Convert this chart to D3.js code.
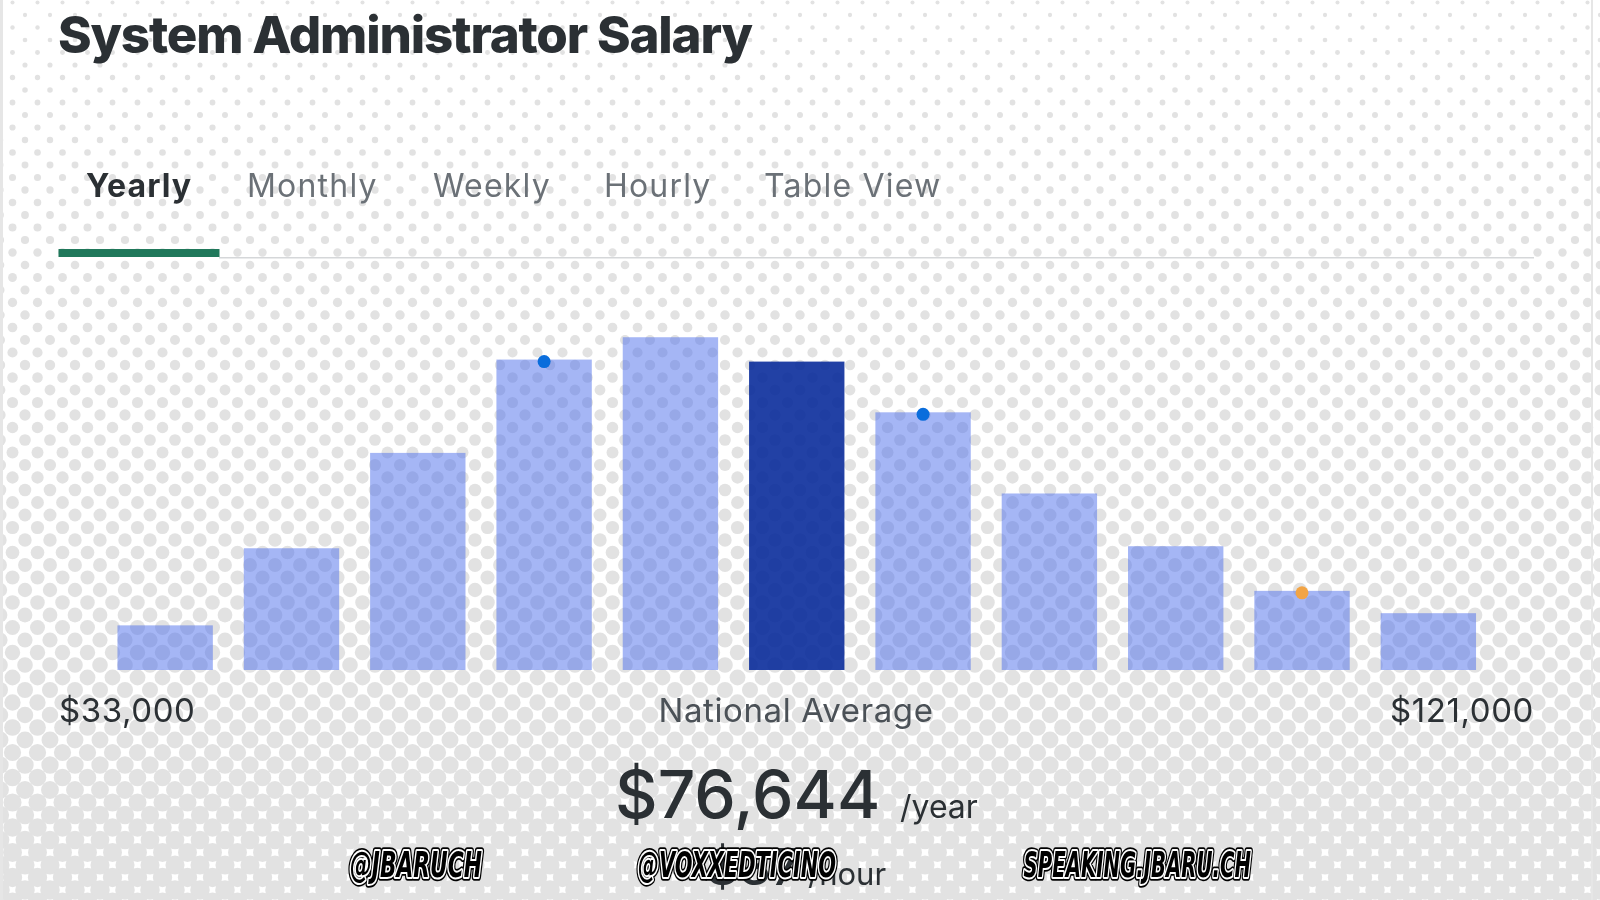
<!DOCTYPE html>
<html>
<head>
<meta charset="utf-8">
<script src="https://cdn.jsdelivr.net/npm/d3@7"></script>
<style>
  html, body { margin: 0; padding: 0; background: #fff; }
  #wrap { position: relative; width: 1600px; height: 900px; overflow: hidden; }
  canvas, svg { position: absolute; left: 0; top: 0; }
</style>
</head>
<body>
<div id="wrap">
  <canvas id="bg" width="1600" height="900"></canvas>
  <svg id="chart" width="1600" height="900"></svg>
</div>
<script>
// ---------------- data ----------------
const title = "System Administrator Salary";
const tabs = ["Yearly", "Monthly", "Weekly", "Hourly", "Table View"];
const activeTab = "Yearly";
const categories = ["$33k–41k", "$41k–49k", "$49k–57k", "$57k–65k", "$65k–73k", "$73k–81k",
                    "$81k–89k", "$89k–97k", "$97k–105k", "$105k–113k", "$113k–121k"];
const shareOfSalaries = [2.2, 6.0, 10.7, 15.3, 16.4, 15.2, 12.7, 8.7, 6.1, 3.9, 2.8];
const averageBin = "$73k–81k";
const markerBins = ["$57k–65k", "$81k–89k", "$105k–113k"];
const markerKinds = ["blue", "blue", "orange"];
const rangeLabels = ["$33,000", "National Average", "$121,000"];
const averageValue = "$76,644";
const averageUnit = "/year";
const hourlyValue = "$37";
const hourlyUnit = "/hour";
const watermarks = ["@JBARUCH", "@VOXXEDTICINO", "SPEAKING.JBARU.CH"];

// ---------------- background halftone ----------------
(function drawBackground() {
  const cv = document.getElementById("bg");
  const ctx = cv.getContext("2d");
  ctx.fillStyle = "#ffffff";
  ctx.fillRect(0, 0, 1600, 900);
  ctx.fillStyle = "#e2e2e2";
  for (let k = 0; k < 74; k++) {
    const yy = 2.5 + 12.5 * k;
    const off = (k % 2 === 1) ? 0 : 12.5;
    const r = Math.min(11, (4 + 0.0175 * yy) / 2);
    for (let xx = off - 25; xx < 1625; xx += 25) {
      ctx.beginPath();
      ctx.arc(xx, yy, r, 0, Math.PI * 2);
      ctx.fill();
    }
  }
  ctx.fillStyle = "#e6e6e6";
  ctx.fillRect(0, 0, 3, 900);
  ctx.fillRect(1591, 0, 2, 900);
})();

// ---------------- chart ----------------
const svg = d3.select("#chart");
const FONT = "Inter, 'Noto Sans', sans-serif";
const dark = "#2b3034";
const grey = "#6b7177";

// title
svg.append("text")
  .attr("x", 58).attr("y", 53)
  .attr("font-family", FONT).attr("font-weight", 800)
  .attr("font-size", 51).attr("fill", dark)
  .attr("textLength", 695).attr("lengthAdjust", "spacing")
  .text(title);

// tabs
const tabX = [86, 247, 433, 604, 764];
svg.append("g").selectAll("text").data(tabs).join("text")
  .attr("x", (d, i) => tabX[i]).attr("y", 196.5)
  .attr("font-family", FONT)
  .attr("font-weight", d => d === activeTab ? 700 : 400)
  .attr("font-size", 32)
  .attr("letter-spacing", d => d === activeTab ? 1.1 : 1.2)
  .attr("fill", d => d === activeTab ? dark : grey)
  .text(d => d);

svg.append("rect").attr("x", 219).attr("y", 257).attr("width", 1315).attr("height", 1.5).attr("fill", "#d5d7d9");
svg.append("rect").attr("x", 58.5).attr("y", 249).attr("width", 161).attr("height", 8).attr("fill", "#20785b");

// scales
const x = d3.scaleBand().domain(categories).range([102, 1491.5]).paddingInner(0.245).paddingOuter(0.1225);
const y = d3.scaleLinear().domain([0, 20]).range([670, 264.2]);

svg.append("g").selectAll("rect").data(categories).join("rect")
  .attr("x", d => x(d))
  .attr("y", (d, i) => y(shareOfSalaries[i]))
  .attr("width", x.bandwidth())
  .attr("height", (d, i) => y(0) - y(shareOfSalaries[i]))
  .attr("fill", d => d === averageBin ? "rgb(3,39,153)" : "rgb(75,110,235)")
  .attr("fill-opacity", d => d === averageBin ? 0.88 : 0.5);

// markers
svg.append("g").selectAll("circle").data(markerBins).join("circle")
  .attr("cx", d => x(d) + x.bandwidth() / 2)
  .attr("cy", d => y(shareOfSalaries[categories.indexOf(d)]) + 2)
  .attr("r", 6.5)
  .attr("fill", (d, i) => markerKinds[i] === "blue" ? "#0a6ddc" : "#f2a445");

// range labels
const lbl = svg.append("g").attr("font-family", FONT).attr("font-size", 33).attr("letter-spacing", 0.6);
lbl.append("text").attr("x", 59).attr("y", 722).attr("fill", dark).text(rangeLabels[0]);
lbl.append("text").attr("x", 796).attr("y", 722).attr("text-anchor", "middle")
  .attr("fill", "#4b5157").text(rangeLabels[1]);
lbl.append("text").attr("x", 1534).attr("y", 722).attr("text-anchor", "end")
  .attr("fill", dark).text(rangeLabels[2]);

// average
svg.append("text").attr("x", 615).attr("y", 818).attr("font-family", FONT).attr("font-weight", 500)
  .attr("font-size", 66).attr("fill", dark).text(averageValue);
svg.append("text").attr("x", 900).attr("y", 818).attr("font-family", FONT)
  .attr("font-size", 32).attr("fill", dark).text(averageUnit);
svg.append("text").attr("x", 706).attr("y", 885).attr("font-family", FONT).attr("font-weight", 500)
  .attr("font-size", 51).attr("fill", dark).text(hourlyValue);
svg.append("text").attr("x", 808).attr("y", 885).attr("font-family", FONT)
  .attr("font-size", 31).attr("fill", dark).text(hourlyUnit);

// watermarks
const wmX = [350, 638, 1023.5];
const wmW = [138, 204, 233.5];
const wm = svg.append("g").attr("font-family", "'DejaVu Sans Condensed', 'DejaVu Sans', sans-serif")
  .attr("font-weight", 700).attr("font-style", "italic").attr("font-size", 35);
[[7.5, "#000"], [4, "#fff"]].forEach(([sw, sc]) => {
  wm.append("g").selectAll("text").data(watermarks).join("text")
    .attr("x", (d, i) => wmX[i]).attr("y", 877)
    .attr("textLength", (d, i) => wmW[i] - 6).attr("lengthAdjust", "spacingAndGlyphs")
    .attr("fill", "#000").attr("stroke", sc).attr("stroke-width", sw)
    .attr("stroke-linejoin", "round").attr("paint-order", "stroke")
    .text(d => d);
});
</script>
</body>
</html>
